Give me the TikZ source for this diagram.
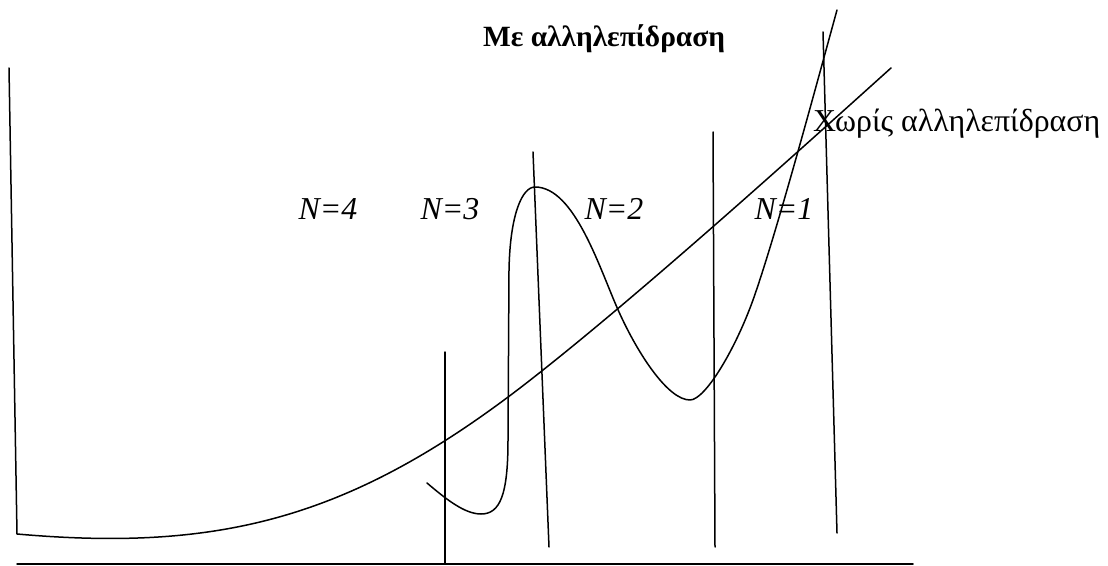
\documentclass[tikz,border=0pt]{standalone}
\usepackage{fontspec}
\setmainfont{Liberation Serif}
\usepackage{tikz}

\begin{document}
\begin{tikzpicture}[
          x=1bp, y=-1bp,
          line/.style={line width=1.5bp, line cap=round, line join=round},
          wall/.style={line},
          nlabel/.style={inner sep=0pt, anchor=base, font=\fontsize{32}{36}\selectfont\itshape}
        ]
          \useasboundingbox (0,0) rectangle (1108,566);

          % axis and well walls
          \draw[line] (17,564) -- (913,564);
          \draw[wall] (445,352) -- (445,564);
          \draw[wall] (533,152) -- (549,547);
          \draw[wall] (713,132) -- (715,547);
          \draw[wall] (823,32) -- (837,533);

          % without interaction
          \draw[line] (9,68) -- (17,534)
            .. controls (220,552) and (350,518) .. (520,388)
            .. controls (628,305) and (791,158) .. (891,68);

          % with interaction
          \draw[line] (427,483) .. controls (447,500) and (465,514) .. (481,514)
            .. controls (500,514) and (508,495) .. (508,440)
            -- (509,270) .. controls (510,215) and (522,187) .. (535,187)
            .. controls (575,187) and (600,270) .. (619,312)
            .. controls (638,354) and (668,400) .. (690,400)
            .. controls (705,400) and (735,350) .. (753,300)
            .. controls (776,235) and (815,90) .. (837,10);

          \node[inner sep=0pt, anchor=base west, font=\fontsize{29.5}{33}\selectfont\bfseries] (withint) at (483,47) {Με αλληλεπίδραση};
          \node[inner sep=0pt, anchor=base west, font=\fontsize{32}{36}\selectfont] (noint) at (813,132) {Χωρίς αλληλεπίδραση};

          \node[nlabel] (n4) at (328,220) {N=4};
          \node[nlabel] (n3) at (450,220) {N=3};
          \node[nlabel] (n2) at (614,220) {N=2};
          \node[nlabel] (n1) at (784,220) {N=1};
        \end{tikzpicture}
\end{document}
